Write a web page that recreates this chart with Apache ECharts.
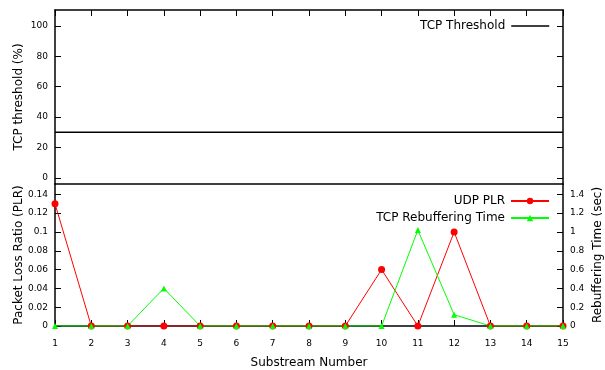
<!DOCTYPE html>
<html>
<head>
<meta charset="utf-8">
<script src="https://cdn.jsdelivr.net/npm/echarts@6/dist/echarts.min.js"></script>
<style>
  html, body { margin: 0; padding: 0; background: #fff; }
  #chart { width: 605px; height: 370px; }
</style>
</head>
<body>
<div id="chart"></div>
<script>
const substreams = [1, 2, 3, 4, 5, 6, 7, 8, 9, 10, 11, 12, 13, 14, 15];
const tcpThreshold = [30, 30, 30, 30, 30, 30, 30, 30, 30, 30, 30, 30, 30, 30, 30];
const udpPlr = [0.13, 0, 0, 0, 0, 0, 0, 0, 0, 0.06, 0, 0.1, 0, 0, 0];
const tcpRebuffer = [0, 0, 0, 0.4, 0, 0, 0, 0, 0, 0, 1.02, 0.12, 0, 0, 0];
const thresholdTicks = [0, 20, 40, 60, 80, 100];
const plrTicks = [0, 0.02, 0.04, 0.06, 0.08, 0.1, 0.12, 0.14];
const rebufTicks = [0, 0.2, 0.4, 0.6, 0.8, 1, 1.2, 1.4];

const FONT = 'DejaVu Sans';
const lineStyle = { color: '#000', width: 1.5 };
const pairs = (ys) => substreams.map((x, i) => [x, ys[i]]);

const xBase = {
    type: 'value', min: 1, max: 15, interval: 1,
    splitLine: { show: false },
    axisLine: { onZero: false, lineStyle }
};
const tickIn = (vals) => ({
    show: true, inside: true, length: 6,
    lineStyle: { color: '#000', width: 1 },
    customValues: vals
});
const legendText = { fontFamily: FONT, fontSize: 12, color: '#000', padding: [0, 1, 0, 0] };
const nameText = { fontSize: 12, color: '#000' };

const chart = echarts.init(document.getElementById('chart'));
chart.setOption({
    animation: false,
    textStyle: { fontFamily: FONT },
    grid: [
        { left: 55, right: 42, top: 10, height: 174, outerBoundsMode: 'none' },
        { left: 55, right: 42, top: 184, height: 142, outerBoundsMode: 'none' }
    ],
    legend: [
        {
            data: ['TCP Threshold'],
            right: 50, top: 15, orient: 'vertical', align: 'right',
            itemWidth: 38, itemHeight: 8,
            itemStyle: { color: 'transparent', borderWidth: 0 },
            lineStyle: { color: '#000', width: 1.5 },
            textStyle: legendText
        },
        {
            data: ['UDP PLR', 'TCP Rebuffering Time'],
            right: 50, top: 190, orient: 'vertical', align: 'right',
            itemWidth: 38, itemHeight: 8, itemGap: 5,
            textStyle: legendText
        }
    ],
    xAxis: [
        Object.assign({}, xBase, { gridIndex: 0, position: 'bottom', axisTick: { show: false }, axisLabel: { show: false } }),
        Object.assign({}, xBase, { gridIndex: 0, position: 'top', axisTick: tickIn(substreams), axisLabel: { show: false } }),
        Object.assign({}, xBase, {
            gridIndex: 1, position: 'bottom',
            axisTick: tickIn(substreams),
            axisLabel: { fontSize: 9, color: '#000', margin: 13 },
            name: 'Substream Number', nameLocation: 'middle', nameGap: 31, nameMoveOverlap: false,
            nameTextStyle: nameText
        })
    ],
    yAxis: [
        {
            gridIndex: 0, type: 'value', min: -4, max: 110.5, position: 'left',
            splitLine: { show: false }, axisLine: { show: true, onZero: false, lineStyle },
            axisTick: tickIn(thresholdTicks),
            axisLabel: { customValues: thresholdTicks, fontSize: 9, color: '#000', margin: 7 },
            name: 'TCP threshold (%)', nameLocation: 'middle', nameGap: 30, nameMoveOverlap: false,
            nameTextStyle: nameText
        },
        {
            gridIndex: 0, type: 'value', min: -4, max: 110.5, position: 'right',
            splitLine: { show: false }, axisLine: { show: true, onZero: false, lineStyle },
            axisTick: tickIn(thresholdTicks),
            axisLabel: { show: false }
        },
        {
            gridIndex: 1, type: 'value', min: 0, max: 0.151, position: 'left',
            splitLine: { show: false }, axisLine: { show: true, onZero: false, lineStyle },
            axisTick: tickIn(plrTicks),
            axisLabel: { customValues: plrTicks, fontSize: 9, color: '#000', margin: 7 },
            name: 'Packet Loss Ratio (PLR)', nameLocation: 'middle', nameGap: 30, nameMoveOverlap: false,
            nameTextStyle: nameText
        },
        {
            gridIndex: 1, type: 'value', min: 0, max: 1.51, position: 'right',
            splitLine: { show: false }, axisLine: { show: true, onZero: false, lineStyle },
            axisTick: tickIn(rebufTicks),
            axisLabel: { customValues: rebufTicks, fontSize: 9, color: '#000', margin: 7 },
            name: 'Rebuffering Time (sec)', nameLocation: 'middle', nameGap: 29, nameMoveOverlap: false,
            nameTextStyle: nameText
        }
    ],
    series: [
        {
            name: 'TCP Threshold', type: 'line', xAxisIndex: 0, yAxisIndex: 0,
            data: pairs(tcpThreshold), showSymbol: false, symbol: 'none',
            lineStyle: { color: '#000', width: 1.5 }, itemStyle: { color: '#000' }
        },
        {
            name: 'UDP PLR', type: 'line', xAxisIndex: 2, yAxisIndex: 2,
            data: pairs(udpPlr), symbol: 'circle', symbolSize: 7,
            lineStyle: { color: '#ff0000', width: 1 }, itemStyle: { color: '#ff0000' }
        },
        {
            name: 'TCP Rebuffering Time', type: 'line', xAxisIndex: 2, yAxisIndex: 3,
            data: pairs(tcpRebuffer), symbol: 'triangle', symbolSize: 6,
            lineStyle: { color: '#00ff00', width: 1 }, itemStyle: { color: '#00ff00' }
        }
    ]
});
</script>
</body>
</html>
